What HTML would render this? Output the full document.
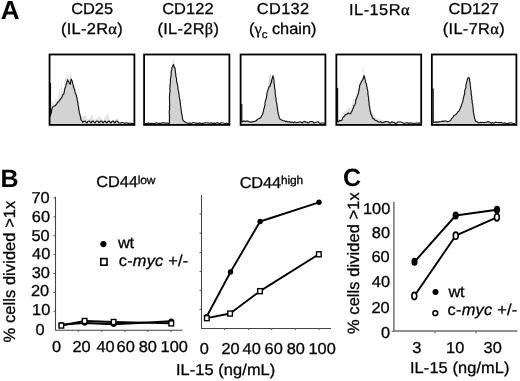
<!DOCTYPE html>
<html><head><meta charset="utf-8">
<style>
html,body{margin:0;padding:0;background:#fff;width:520px;height:381px;overflow:hidden}
svg{display:block;will-change:transform}
text{font-family:"Liberation Sans",sans-serif;fill:#000;text-rendering:geometricPrecision}
.t16{font-size:16.4px;stroke:#000;stroke-width:0.3px}
.b{font-weight:bold;font-size:25px}
.ax{stroke:#444;stroke-width:1.05;fill:none}
.tk{stroke:#555;stroke-width:1;fill:none}
.ln{stroke:#000;stroke-width:1.9;fill:none;stroke-linejoin:round}
.box{fill:none;stroke:#000;stroke-width:1.8}
.hf{fill:#d3d3d3;stroke:none}
.hl{fill:none;stroke:#151515;stroke-width:1.15;stroke-linejoin:round}
.sq{fill:#fff;stroke:#000;stroke-width:1.4}
.gk{font-family:"Liberation Serif",serif}
</style></head>
<body>
<svg width="520" height="381" viewBox="0 0 520 381">
<text class="b" x="0.73" y="18.8" style="font-size:26px;">A</text>
<text class="b" x="0.40" y="186.6">B</text>
<text class="b" x="343.04" y="185.6">C</text>
<text class="t16" x="71.21" y="13.8" transform="matrix(1,0,0,0.965,0,0.483)" style="letter-spacing:-0.025px;">CD25</text>
<text class="t16" x="61.00" y="33.6" transform="matrix(1,0,0,0.965,0,1.176)" style="letter-spacing:0.301px;">(IL-2R<tspan class="gk">α</tspan>)</text>
<text class="t16" x="162.13" y="13.8" transform="matrix(1,0,0,0.965,0,0.483)" style="letter-spacing:0.145px;">CD122</text>
<text class="t16" x="157.54" y="33.6" transform="matrix(1,0,0,0.965,0,1.176)" style="letter-spacing:0.280px;">(IL-2R<tspan class="gk">β</tspan>)</text>
<text class="t16" x="256.79" y="13.8" transform="matrix(1,0,0,0.965,0,0.483)" style="letter-spacing:0.341px;">CD132</text>
<text class="t16" x="249.00" y="33.6" transform="matrix(1,0,0,0.965,0,1.176)" style="letter-spacing:-0.027px;">(<tspan class="gk">γ</tspan><tspan font-size="11.5" dy="4.2">c</tspan><tspan dy="-4.2"> chain)</tspan></text>
<text class="t16" x="349.05" y="15.3" transform="matrix(1,0,0,0.965,0,0.536)" style="letter-spacing:0.458px;">IL-15R<tspan class="gk">α</tspan></text>
<text class="t16" x="448.53" y="13.7" transform="matrix(1,0,0,0.965,0,0.480)" style="letter-spacing:-0.154px;">CD127</text>
<text class="t16" x="442.81" y="33.5" transform="matrix(1,0,0,0.965,0,1.173)" style="letter-spacing:0.314px;">(IL-7R<tspan class="gk">α</tspan>)</text>
<text class="t16" x="96.21" y="187.3" transform="matrix(1,0,0,0.965,0,6.556)" style="letter-spacing:-0.117px;">CD44<tspan font-size="12" dy="-3.9">low</tspan></text>
<text class="t16" x="239.64" y="187.8" transform="matrix(1,0,0,0.965,0,6.573)" style="letter-spacing:-0.155px;">CD44<tspan font-size="12" dy="-3.9">high</tspan></text>
<text class="t16" x="118.05" y="248.2" transform="matrix(1,0,0,0.965,0,8.687)" style="letter-spacing:-0.400px;">wt</text>
<text class="t16" x="118.82" y="265.8" transform="matrix(1,0,0,0.965,0,9.303)" style="letter-spacing:0.191px;">c-<tspan font-style="italic">myc</tspan> +/-</text>
<text class="t16" x="175.96" y="375.2" transform="matrix(1,0,0,0.965,0,13.132)" style="letter-spacing:0.077px;">IL-15 (ng/mL)</text>
<text class="t16" x="448.53" y="296.5" transform="matrix(1,0,0,0.965,0,10.378)" style="letter-spacing:-0.400px;">wt</text>
<text class="t16" x="447.54" y="315.3" transform="matrix(1,0,0,0.965,0,11.036)" style="letter-spacing:0.243px;">c-<tspan font-style="italic">myc</tspan> +/-</text>
<text class="t16" x="409.98" y="373.4" transform="matrix(1,0,0,0.965,0,13.069)" style="letter-spacing:0.094px;">IL-15 (ng/mL)</text>
<text class="t16" x="31.41" y="203.4" transform="matrix(1,0,0,0.965,0,7.119)">70</text>
<text class="t16" x="31.78" y="221.8" transform="matrix(1,0,0,0.965,0,7.763)">60</text>
<text class="t16" x="31.46" y="240.5" transform="matrix(1,0,0,0.965,0,8.418)">50</text>
<text class="t16" x="32.04" y="258.9" transform="matrix(1,0,0,0.965,0,9.062)">40</text>
<text class="t16" x="31.76" y="277.6" transform="matrix(1,0,0,0.965,0,9.716)">30</text>
<text class="t16" x="30.96" y="296.3" transform="matrix(1,0,0,0.965,0,10.371)">20</text>
<text class="t16" x="32.10" y="315.15" transform="matrix(1,0,0,0.965,0,11.030)">10</text>
<text class="t16" x="35.62" y="335.3" transform="matrix(1,0,0,0.965,0,11.736)">0</text>
<text class="t16" x="362.93" y="213.7" transform="matrix(1,0,0,0.965,0,7.480)">100</text>
<text class="t16" x="371.78" y="237.7" transform="matrix(1,0,0,0.965,0,8.320)">80</text>
<text class="t16" x="371.40" y="262.4" transform="matrix(1,0,0,0.965,0,9.184)">60</text>
<text class="t16" x="371.83" y="286.9" transform="matrix(1,0,0,0.965,0,10.042)">40</text>
<text class="t16" x="371.41" y="312.5" transform="matrix(1,0,0,0.965,0,10.938)">20</text>
<text class="t16" x="381.02" y="337.8" transform="matrix(1,0,0,0.965,0,11.823)">0</text>
<text class="t16" x="51.95" y="351.9" transform="matrix(1,0,0,0.965,0,12.317)">0</text>
<text class="t16" x="72.39" y="351.9" transform="matrix(1,0,0,0.965,0,12.317)">20</text>
<text class="t16" x="96.49" y="351.9" transform="matrix(1,0,0,0.965,0,12.317)">40</text>
<text class="t16" x="116.54" y="351.9" transform="matrix(1,0,0,0.965,0,12.317)">60</text>
<text class="t16" x="138.65" y="351.9" transform="matrix(1,0,0,0.965,0,12.317)">80</text>
<text class="t16" x="160.60" y="351.9" transform="matrix(1,0,0,0.965,0,12.317)">100</text>
<text class="t16" x="199.82" y="353.8" transform="matrix(1,0,0,0.965,0,12.383)">0</text>
<text class="t16" x="221.40" y="353.8" transform="matrix(1,0,0,0.965,0,12.383)">20</text>
<text class="t16" x="242.60" y="353.8" transform="matrix(1,0,0,0.965,0,12.383)">40</text>
<text class="t16" x="264.60" y="353.8" transform="matrix(1,0,0,0.965,0,12.383)">60</text>
<text class="t16" x="286.71" y="353.8" transform="matrix(1,0,0,0.965,0,12.383)">80</text>
<text class="t16" x="308.43" y="353.8" transform="matrix(1,0,0,0.965,0,12.383)">100</text>
<text class="t16" x="412.36" y="353.2" transform="matrix(1,0,0,0.965,0,12.362)">3</text>
<text class="t16" x="446.09" y="353.2" transform="matrix(1,0,0,0.965,0,12.362)">10</text>
<text class="t16" x="483.61" y="353.2" transform="matrix(1,0,0,0.965,0,12.362)">30</text>

<!-- Panel A -->

<!-- histograms -->
<g id="h1">
<path d="M51,124 L51,105 L53,100 L54,106 L56,96 L57,103 L59.5,87 L60.5,99 L61.6,80 L62.5,95 L64,88 L65,80 L66,74 L67,79 L68,73 L69,80 L71,71.5 L72,80 L73,84 L75,86 L76,92 L78,100 L80,112 L82,117 L86,115 L88,120 L92,114 L94,120 L100,116 L103,121 L108,113 L110,121 L118,118 L119,124 Z" fill="#e4e4e4"/>
<path class="hf" d="M50,124 L50,83 L51.3,112.7 L52.5,107.5 L54.7,106 L57,103.7 L59.2,100.7 L61.5,97.7 L63.7,94 L65.7,86.5 L67.5,79.7 L69,82 L70.2,84.2 L71.2,79 L72.3,81.2 L73.5,87.2 L75,91.7 L76.5,96.2 L78,104.5 L79.5,113.4 L81.3,120.2 L82.8,122.4 L119,122 L119,124 Z"/>
<path class="hl" d="M50.50,83.00 L50.50,116.00 L50.59,114.71 L50.82,113.97 L51.30,112.70 L51.53,111.44 L51.90,109.61 L52.17,108.29 L52.50,107.50 L53.40,106.28 L54.70,106.00 L56.01,104.77 L57.00,103.70 L57.59,102.29 L58.69,101.84 L59.20,100.70 L59.92,99.78 L60.51,99.22 L61.50,97.70 L62.13,96.86 L62.78,94.84 L63.70,94.00 L64.14,92.72 L64.31,91.51 L64.49,90.94 L64.62,89.77 L64.98,88.16 L65.38,87.77 L65.70,86.50 L66.04,85.16 L66.20,84.18 L66.70,83.42 L66.94,81.69 L67.39,80.86 L67.50,79.70 L68.14,81.10 L69.00,82.00 L69.41,83.63 L70.20,84.20 L70.58,82.81 L70.69,81.22 L71.03,79.79 L71.20,79.00 L71.79,80.39 L72.30,81.20 L72.45,82.81 L72.83,83.81 L73.00,84.89 L73.48,86.37 L73.50,87.20 L73.96,88.30 L74.35,88.97 L74.87,90.74 L75.00,91.70 L75.27,93.18 L75.83,93.82 L76.11,94.55 L76.50,96.20 L76.52,97.02 L77.06,98.09 L77.02,99.35 L77.54,100.82 L77.55,101.67 L77.98,103.37 L78.00,104.50 L78.37,105.96 L78.33,106.48 L78.75,107.68 L78.58,109.45 L78.80,109.71 L79.12,110.88 L79.19,112.39 L79.50,113.40 L79.76,113.99 L80.13,115.52 L80.50,117.30 L80.76,117.95 L80.78,119.26 L81.30,120.20 L82.24,121.30 L82.80,122.40 L83.85,121.34 L85.00,121.00 L85.78,121.87 L87.00,123.00 L87.83,121.48 L89.00,121.00 L89.75,121.33 L91.00,123.00 L91.93,121.38 L93.00,121.00 L94.06,122.09 L95.00,123.00 L95.92,121.52 L97.00,121.00 L98.17,121.40 L99.00,123.00 L99.99,121.71 L101.00,121.00 L101.92,121.38 L103.00,123.00 L103.83,122.04 L105.00,121.00 L106.01,122.16 L107.00,123.00 L107.76,121.78 L109.00,121.00 L110.18,122.18 L111.00,123.00 L111.93,121.52 L113.00,121.00 L114.02,121.99 L115.00,123.00 L115.86,121.59 L117.00,121.00 L118.18,122.19 L119.00,123.00 L120.27,123.07 L121.24,122.84 L122.35,122.43 L123.84,123.07 L125.01,123.33 L125.78,122.85 L126.93,122.73 L128.40,123.42 L129.53,123.23 L130.74,123.27 L131.68,123.39 L132.76,123.47 L134.00,123.50"/>
</g>
<g id="h2">
<path class="hf" d="M169.3,124 L169.5,100 L169.9,88 L170.6,78 L171.3,71 L172.3,67 L173.6,64.5 L174.4,67.5 L175.1,68.2 L175.8,74 L176.6,80 L178.2,90 L179.8,100 L181.2,110 L182.7,119.5 L185,122 L187.5,123.3 L188,124 Z"/>
<path class="hf" d="M172.4,70 L173.1,57.5 L173.8,66 Z" style="fill:#bbb"/>
<path class="hl" d="M145.00,123.50 L146.05,123.66 L147.32,123.63 L148.14,122.87 L149.24,123.49 L150.60,123.64 L151.44,123.23 L152.81,123.61 L153.80,123.57 L154.80,123.46 L155.92,122.96 L157.11,122.92 L158.18,123.51 L159.56,123.20 L160.46,123.50 L161.33,123.13 L162.42,122.81 L163.76,122.79 L164.79,123.13 L166.13,123.12 L166.97,123.12 L168.20,123.30 L169.30,123.30 L169.52,122.17 L169.32,120.93 L169.42,119.98 L169.35,118.81 L169.57,117.73 L169.55,116.86 L169.25,116.02 L169.60,114.49 L169.20,113.69 L169.37,111.79 L169.28,110.63 L169.50,109.52 L169.62,109.19 L169.54,107.39 L169.26,106.83 L169.69,105.97 L169.69,104.13 L169.47,103.22 L169.65,102.76 L169.46,100.74 L169.50,100.00 L169.46,98.82 L169.49,97.27 L169.38,96.64 L169.63,95.26 L169.62,93.47 L169.75,92.94 L170.02,91.12 L170.06,90.72 L169.74,88.77 L169.90,88.00 L170.12,86.38 L169.87,85.53 L170.34,84.58 L170.09,83.91 L170.50,82.06 L170.47,81.41 L170.22,79.77 L170.48,79.32 L170.60,78.00 L170.94,76.36 L170.98,75.81 L171.13,74.04 L171.25,72.86 L171.10,72.12 L171.30,71.00 L171.85,69.73 L171.78,68.08 L172.30,67.00 L172.82,65.78 L173.60,64.50 L173.83,65.57 L174.40,67.50 L175.10,68.20 L175.09,68.87 L175.28,70.31 L175.41,71.97 L175.50,72.84 L175.80,74.00 L175.72,75.03 L175.88,76.13 L176.31,77.86 L176.43,78.46 L176.60,80.00 L176.58,81.59 L176.92,82.57 L177.30,83.33 L177.31,84.33 L177.73,85.76 L177.83,86.49 L177.91,88.01 L177.95,88.78 L178.20,90.00 L178.19,90.62 L178.68,91.75 L178.56,93.06 L179.08,93.99 L179.17,95.96 L179.14,96.43 L179.42,97.55 L179.60,98.51 L179.80,100.00 L180.19,100.85 L180.13,102.74 L180.50,103.05 L180.35,104.23 L180.52,105.01 L180.73,106.64 L180.89,107.45 L180.93,108.34 L181.20,110.00 L181.34,110.74 L181.34,111.87 L181.63,113.35 L181.96,114.84 L182.22,116.21 L182.51,117.36 L182.43,118.19 L182.70,119.50 L183.29,120.87 L184.01,121.04 L185.00,122.00 L186.31,122.75 L187.50,123.30 L188.44,123.33 L189.91,123.06 L190.91,123.36 L192.08,123.23 L192.92,122.64 L194.40,122.71 L195.41,123.20 L196.22,123.08 L197.60,123.32 L198.50,123.24 L199.63,122.88 L200.81,123.32 L202.08,123.55 L203.29,123.10 L204.40,123.23 L205.32,122.81 L206.60,122.96 L207.57,122.74 L208.90,123.32 L209.91,123.17 L211.25,122.81 L212.39,123.60 L213.46,123.13 L214.30,123.13 L215.40,123.59 L216.67,122.86 L217.94,122.85 L219.01,123.55 L220.02,123.56 L221.14,122.75 L222.09,123.03 L223.56,123.05 L224.68,123.45 L225.74,123.62 L226.69,123.04 L227.92,123.69 L229.00,123.50"/>
</g>
<g id="h3">
<path d="M268,90 L270.1,72.5 L271.5,86 Z" fill="#c4c4c4"/>
<path class="hf" d="M241.5,124 L241.5,104 L242.4,121.9 L246.5,121.1 L251.4,122.2 L255.4,121.1 L258.7,118.7 L261.1,117 L262.8,113.8 L264.4,107.3 L266,99.1 L267.6,91 L268.9,87 L270.1,73.1 L271.2,82.9 L272.5,77.2 L273,75.6 L273.8,79.6 L274.6,87.8 L275.8,97.5 L277.1,105.7 L278.2,113.8 L279.8,118.7 L282.3,120.3 L285.5,121.6 L288.8,121.9 L293.7,122.7 L298.5,122.2 L318,123 L318,124 Z"/>
<path class="hl" d="M241.80,104.00 L241.80,121.90 L242.86,121.38 L244.32,120.88 L245.20,121.44 L246.50,121.10 L247.57,121.13 L249.14,121.81 L250.38,121.79 L251.40,122.20 L252.84,121.62 L254.04,121.42 L255.40,121.10 L256.57,120.58 L257.37,119.26 L258.70,118.70 L259.71,118.32 L261.10,117.00 L261.59,115.90 L262.35,114.64 L262.80,113.80 L262.95,113.24 L263.23,111.80 L263.55,110.61 L263.70,109.10 L264.34,108.06 L264.40,107.30 L264.49,106.13 L265.11,105.40 L264.91,103.73 L265.11,102.28 L265.34,101.27 L265.65,99.98 L266.00,99.10 L266.42,98.02 L266.41,97.06 L266.70,95.53 L266.83,94.34 L267.03,92.83 L267.18,92.67 L267.60,91.00 L268.10,89.67 L268.32,88.73 L268.90,87.00 L270.10,86.10 L270.34,84.78 L270.81,83.86 L271.20,82.90 L271.63,82.26 L271.48,81.03 L272.08,78.97 L272.23,78.78 L272.50,77.20 L273.00,75.60 L273.02,77.03 L273.75,78.15 L273.80,79.60 L274.09,81.13 L273.90,82.46 L273.97,82.68 L274.35,84.31 L274.48,85.94 L274.62,86.79 L274.60,87.80 L274.78,88.97 L275.04,89.72 L275.26,91.14 L275.10,92.81 L275.23,93.45 L275.60,95.22 L275.44,95.86 L275.80,97.50 L276.03,98.70 L276.03,99.72 L276.11,101.13 L276.52,101.97 L276.80,103.86 L276.90,104.95 L277.10,105.70 L277.13,106.57 L277.52,108.52 L277.33,108.96 L277.82,110.33 L277.76,111.40 L278.26,112.83 L278.20,113.80 L278.37,114.72 L278.96,116.07 L279.25,117.68 L279.80,118.70 L281.17,119.83 L282.30,120.30 L283.22,120.74 L284.59,120.74 L285.50,121.60 L286.73,121.19 L287.70,121.96 L288.80,121.90 L289.98,121.59 L291.07,122.45 L292.71,121.98 L293.70,122.70 L294.68,121.91 L296.29,122.56 L297.52,122.52 L298.50,122.20 L299.88,121.92 L300.92,122.05 L302.00,123.00 L302.92,122.16 L303.89,121.35 L305.00,121.60 L305.81,122.23 L306.93,122.01 L308.00,123.00 L308.97,122.57 L309.94,121.78 L311.00,121.60 L311.93,121.53 L312.96,121.85 L314.00,123.00 L315.27,122.49 L317.00,122.00 L318.21,121.84 L319.20,122.97 L320.00,123.50 L321.48,123.03 L322.61,123.02 L323.50,123.04 L325.00,123.50"/>
</g>
<g id="h4">
<path d="M340,124 L344,112 L347,110 L349,106 L351,109 L353,100 L355,98 L357,92 L359,86 L361,80 L362.8,76 L363.6,65 L364.4,74 L366,80 L368,88 L370,104 L372,112 L376,118 L380,119 L384,121 L388,124 Z" fill="#e4e4e4"/>
<path class="hf" d="M337.5,124 L337.5,87.8 L338.4,121.9 L341.7,120.3 L343.3,117 L345.8,114.6 L348.2,113 L350.6,113.8 L352.3,110.5 L353.6,107.3 L355.2,104 L356.3,99.1 L357.5,95.9 L358.8,91 L360.1,84.5 L361.7,81.3 L362.8,79.6 L364,75.6 L365.3,80.4 L366.6,86.1 L367.7,91 L368.5,97.5 L369.3,105.7 L370.5,112.2 L372.1,117 L375,120.3 L378.3,121.9 L383.2,122.7 L389.7,123.2 L395.3,123.5 L395.3,124 Z"/>
<path class="hl" d="M337.60,87.80 L337.60,121.90 L338.69,121.62 L339.52,120.41 L340.90,120.67 L341.70,120.30 L342.18,119.70 L342.73,117.83 L343.30,117.00 L344.35,116.19 L345.12,115.05 L345.80,114.60 L347.16,114.06 L348.20,113.00 L349.45,113.70 L350.60,113.80 L351.08,112.51 L351.87,111.45 L352.30,110.50 L352.58,108.97 L353.04,108.64 L353.60,107.30 L353.90,105.72 L354.58,105.16 L355.20,104.00 L355.67,103.30 L355.63,102.09 L355.82,99.87 L356.30,99.10 L356.80,98.03 L356.97,96.91 L357.50,95.90 L357.89,94.58 L358.27,93.64 L358.56,92.61 L358.80,91.00 L359.19,89.50 L359.27,88.61 L359.57,87.61 L359.54,86.34 L359.71,85.30 L360.10,84.50 L360.67,83.86 L361.11,82.18 L361.70,81.30 L362.80,79.60 L363.20,78.81 L363.75,76.64 L364.00,75.60 L364.57,76.97 L364.64,77.56 L365.15,79.55 L365.30,80.40 L365.33,82.00 L365.63,82.45 L366.32,83.48 L366.56,85.05 L366.60,86.10 L367.06,87.18 L367.03,88.49 L367.65,90.08 L367.70,91.00 L367.91,91.87 L367.88,93.73 L368.00,94.76 L368.22,95.87 L368.50,97.50 L368.69,98.78 L368.48,99.52 L368.93,100.82 L368.86,101.84 L369.22,103.03 L368.97,104.58 L369.30,105.70 L369.45,106.34 L369.77,107.92 L369.73,108.50 L370.05,110.25 L370.20,110.88 L370.50,112.20 L370.81,113.90 L371.23,114.67 L371.88,115.71 L372.10,117.00 L373.00,118.65 L374.15,118.87 L375.00,120.30 L375.85,120.51 L377.36,121.04 L378.30,121.90 L379.51,122.19 L380.78,121.60 L381.77,122.62 L383.20,122.70 L384.60,121.72 L386.00,121.50 L387.24,121.61 L388.46,122.02 L389.70,123.20 L390.70,122.67 L392.00,121.80 L393.34,122.51 L394.41,122.27 L395.30,123.50 L396.54,123.24 L397.79,122.18 L399.00,122.03 L400.00,122.00 L401.19,121.95 L402.61,122.76 L404.00,123.50 L405.26,123.01 L406.32,122.82 L407.60,122.82 L408.60,123.33 L409.67,123.07 L410.94,123.17 L411.76,123.19 L413.01,123.23 L414.26,123.50 L415.23,123.22 L416.37,123.18 L417.48,123.25 L418.97,122.86 L420.00,123.50"/>
</g>
<g id="h5">
<path d="M466,84 L468.3,73.5 L470,82 Z" fill="#d8d8d8"/>
<path class="hf" d="M433.5,124 L433.5,88.6 L434.4,122.7 L438.5,121.9 L443.4,121.6 L448.3,121.6 L450.7,120.3 L453.1,117 L456.4,113.8 L458.8,111.3 L460.5,107.3 L462.1,103.2 L463.7,97.5 L465.3,89.4 L466.6,82.9 L467.8,78 L469.1,77.7 L470.2,84.5 L471.3,94.3 L472.7,105.7 L474,115.4 L475.6,121.1 L478.3,122.7 L484,122.7 L491.3,123.2 L491.3,124 Z"/>
<path class="hl" d="M433.20,88.60 L433.20,122.70 L434.30,122.25 L436.08,121.93 L437.42,122.17 L438.50,121.90 L439.57,121.86 L441.18,121.49 L442.32,121.11 L443.40,121.60 L444.55,120.94 L446.05,121.03 L446.90,121.63 L448.30,121.60 L449.71,120.95 L450.70,120.30 L451.38,118.88 L452.21,118.11 L453.10,117.00 L453.77,115.69 L454.97,115.03 L455.77,114.80 L456.40,113.80 L457.34,112.60 L458.02,111.71 L458.80,111.30 L459.30,110.12 L459.96,109.04 L460.50,107.30 L461.09,106.36 L461.55,104.82 L461.65,104.37 L462.10,103.20 L462.30,102.39 L462.78,101.46 L463.19,99.63 L463.22,98.58 L463.70,97.50 L463.70,96.61 L464.03,95.54 L464.63,94.18 L464.70,92.97 L464.59,91.51 L464.90,90.04 L465.30,89.40 L465.48,88.44 L465.93,87.25 L465.81,85.75 L465.93,85.24 L466.31,83.44 L466.60,82.90 L466.83,81.24 L467.24,80.15 L467.35,79.32 L467.80,78.00 L469.10,77.70 L469.27,78.97 L469.68,79.56 L469.47,80.82 L469.90,81.79 L470.16,83.78 L470.20,84.50 L470.22,85.62 L470.55,86.41 L470.54,88.24 L470.72,89.56 L471.00,91.11 L471.23,91.57 L471.18,92.57 L471.30,94.30 L471.31,95.34 L471.72,96.09 L471.75,97.18 L471.68,99.35 L472.05,99.67 L472.21,101.15 L472.12,102.62 L472.32,103.21 L472.75,104.06 L472.70,105.70 L472.97,107.22 L473.20,107.58 L473.17,109.61 L473.33,110.82 L473.32,111.46 L473.44,112.68 L473.96,114.01 L474.00,115.40 L474.49,116.75 L474.52,117.91 L474.93,118.88 L475.29,120.28 L475.60,121.10 L477.18,121.77 L478.30,122.70 L479.20,122.79 L480.70,122.20 L481.63,122.67 L482.73,122.29 L484.00,122.70 L485.43,122.20 L486.65,122.15 L488.00,121.60 L489.28,122.06 L490.24,122.61 L491.30,123.20 L492.60,122.59 L493.61,123.15 L495.24,122.33 L496.04,122.27 L497.58,122.69 L498.54,122.64 L500.00,122.60 L501.36,122.40 L502.18,123.06 L503.82,123.26 L504.61,122.79 L506.00,123.50 L507.28,123.56 L508.32,123.54 L509.17,122.88 L510.41,122.97 L511.50,122.80 L512.68,123.44 L513.88,123.67 L515.00,123.50"/>
</g>
<rect class="box" x="49.55" y="54.5" width="84.85" height="70.4"/>
<rect class="box" x="144.1" y="54.5" width="85.30" height="70.4"/>
<rect class="box" x="240.6" y="54.5" width="84.80" height="70.4"/>
<rect class="box" x="336.35" y="54.5" width="84.85" height="70.4"/>
<rect class="box" x="431.85" y="54.5" width="84.55" height="70.4"/>

<!-- Panel B -->
<text class="t16" transform="translate(15.2,271.5) rotate(-90)" text-anchor="middle" style="letter-spacing:0.1px">% cells divided &gt;1x</text>
<!-- left axes -->
<path class="ax" d="M55.5,196.8 V330.2 H182.5"/>
<path class="tk" d="M53.5,197.9 H55.5 M53.5,216.8 H55.5 M53.5,235.7 H55.5 M53.5,254.6 H55.5 M53.5,273.5 H55.5 M53.5,292.4 H55.5 M53.5,311.3 H55.5 M78.3,330 V332 M101.8,330 V332 M124.9,330 V332 M147.8,330 V332 M171,330 V332"/>
<!-- right axes -->
<path class="ax" d="M201.5,195.1 V328.4 H331"/>
<path class="tk" d="M199.5,214 H201.5 M199.5,233.2 H201.5 M199.5,252.5 H201.5 M199.5,271.4 H201.5 M199.5,290.3 H201.5 M199.5,309.4 H201.5 M224.6,328 V330 M248.4,328 V330 M271.7,328 V330 M295.2,328 V330 M319,328 V330"/>
<!-- left data -->
<path class="ln" d="M61.3,324.6 L84.65,323 L113.6,324.3 L171.3,321.3"/>
<path class="ln" d="M61.35,325.55 L84.65,321 L113.6,322 L171.3,323.4"/>
<circle cx="61.3" cy="324.6" r="2.7"/>
<circle cx="84.65" cy="323" r="2.7"/>
<circle cx="113.6" cy="324.3" r="2.7"/>
<circle cx="171.3" cy="321.3" r="2.7"/>
<rect class="sq" x="59.05" y="323.05" width="4.6" height="5.0"/>
<rect class="sq" x="82.35" y="318.50" width="4.6" height="5.0"/>
<rect class="sq" x="111.30" y="319.50" width="4.6" height="5.0"/>
<rect class="sq" x="169.00" y="320.90" width="4.6" height="5.0"/>
<!-- right data -->
<path class="ln" d="M206.6,316.8 L230.5,272 L260.1,221.5 L319,202.3"/>
<path class="ln" d="M206.8,318.15 L230.1,313.55 L260,291.15 L318.85,254.3"/>
<circle cx="206.6" cy="316.8" r="2.7"/>
<circle cx="230.5" cy="272" r="2.7"/>
<circle cx="260.1" cy="221.5" r="2.7"/>
<circle cx="319" cy="202.3" r="2.7"/>
<rect class="sq" x="204.50" y="315.65" width="4.6" height="5.0"/>
<rect class="sq" x="227.80" y="311.05" width="4.6" height="5.0"/>
<rect class="sq" x="257.70" y="288.65" width="4.6" height="5.0"/>
<rect class="sq" x="316.55" y="251.80" width="4.6" height="5.0"/>
<!-- legend B -->
<circle cx="103.4" cy="244.1" r="3.1"/>
<rect class="sq" x="100.8" y="258.6" width="6.2" height="6.6" style="stroke-width:1.6"/>

<!-- Panel C -->
<text class="t16" transform="translate(359,263.1) rotate(-90)" text-anchor="middle" style="letter-spacing:0.1px">% cells divided &gt;1x</text>
<path class="ax" d="M393.9,202 V331.1 H517.5" style="stroke:#6e6e6e;stroke-width:1.5"/>
<path class="tk" d="M391.6,331.3 H393.6 M435,331.3 V333.3 M476,331.3 V333.3"/>
<path class="ln" d="M414.5,261.8 L455.7,215.5 L497,209.8"/>
<path class="ln" d="M414.3,296 L455.7,235.7 L496.9,217.3"/>
<ellipse cx="414.5" cy="261.8" rx="3.1" ry="4"/>
<ellipse cx="455.7" cy="215.5" rx="3.1" ry="4"/>
<ellipse cx="497" cy="209.8" rx="3.1" ry="4"/>
<ellipse cx="414.3" cy="296" rx="2.4" ry="3.6" fill="#fff" stroke="#000" stroke-width="1.6"/>
<ellipse cx="455.7" cy="235.7" rx="2.4" ry="3.6" fill="#fff" stroke="#000" stroke-width="1.6"/>
<ellipse cx="496.9" cy="217.3" rx="2.4" ry="3.6" fill="#fff" stroke="#000" stroke-width="1.6"/>
<circle cx="435.5" cy="291.9" r="3"/>
<circle cx="435.3" cy="313.2" r="2.4" fill="#fff" stroke="#000" stroke-width="1.5"/>

</svg>
</body></html>
